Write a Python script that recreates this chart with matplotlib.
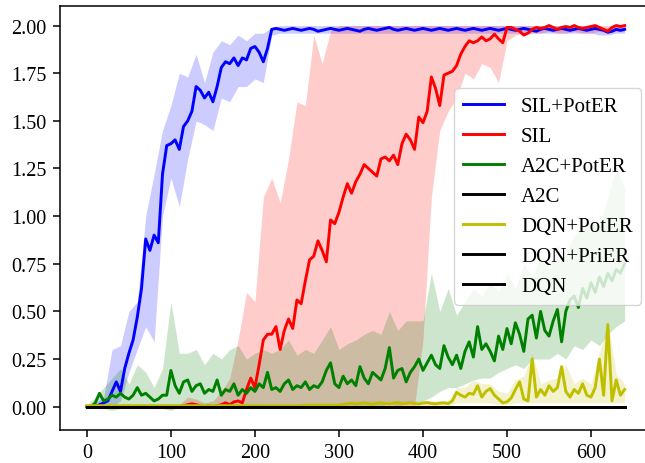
import numpy as np
import matplotlib
matplotlib.use("Agg")
import matplotlib.pyplot as plt

plt.rcParams['font.family'] = 'serif'
plt.rcParams['font.serif'] = ['Liberation Serif', 'DejaVu Serif']
plt.rcParams['mathtext.fontset'] = 'stix'

# ---------------- data ----------------
steps = list(range(0, 641, 5))        # mean curves
band_steps = list(range(0, 641, 10))  # shaded bands

labels = ['SIL+PotER', 'SIL', 'A2C+PotER', 'A2C', 'DQN+PotER', 'DQN+PriER', 'DQN']
colors = ['b', 'r', 'g', 'k', 'y', 'k', 'k']

sil_poter = [
    0.00, 0.00, 0.00, 0.01, 0.02, 0.03, 0.08, 0.13, 0.08, 0.20,
    0.28, 0.35, 0.47, 0.62, 0.88, 0.82, 0.90, 0.86, 1.22, 1.37,
    1.38, 1.40, 1.35, 1.47, 1.50, 1.55, 1.68, 1.66, 1.62, 1.65,
    1.60, 1.68, 1.78, 1.81, 1.80, 1.83, 1.79, 1.83, 1.82, 1.88,
    1.89, 1.86, 1.81, 1.88, 1.98, 1.985, 1.98, 1.975, 1.98, 1.985,
    1.98, 1.975, 1.98, 1.985, 1.98, 1.97, 1.975, 1.98, 1.985, 1.98,
    1.975, 1.98, 1.985, 1.98, 1.975, 1.97, 1.98, 1.985, 1.98, 1.975,
    1.98, 1.985, 1.99, 1.98, 1.975, 1.98, 1.985, 1.98, 1.975, 1.98,
    1.985, 1.98, 1.975, 1.98, 1.985, 1.98, 1.975, 1.98, 1.985, 1.98,
    1.975, 1.98, 1.985, 1.98, 1.975, 1.98, 1.985, 1.98, 1.975, 1.98,
    1.985, 1.98, 1.975, 1.98, 1.985, 1.98, 1.975, 1.97, 1.98, 1.985,
    1.98, 1.975, 1.98, 1.985, 1.98, 1.975, 1.98, 1.985, 1.98, 1.975,
    1.98, 1.985, 1.98, 1.975, 1.965, 1.97, 1.98, 1.975, 1.98,
]
sil_poter_lo = [
    0.00, 0.00, 0.00, 0.00, 0.03, 0.18, 0.30, 0.42, 0.34, 1.00,
    1.20, 1.05, 1.30, 1.50, 1.48, 1.45, 1.62, 1.60, 1.68, 1.68,
    1.72, 1.70, 1.95, 1.96, 1.96, 1.96, 1.96, 1.96, 1.96, 1.96,
    1.96, 1.96, 1.96, 1.96, 1.96, 1.96, 1.96, 1.96, 1.96, 1.96,
    1.96, 1.96, 1.96, 1.96, 1.96, 1.96, 1.96, 1.96, 1.96, 1.96,
    1.96, 1.96, 1.96, 1.96, 1.96, 1.96, 1.96, 1.96, 1.96, 1.96,
    1.96, 1.95, 1.95, 1.96, 1.96,
]
sil_poter_hi = [
    0.00, 0.02, 0.05, 0.30, 0.32, 0.50, 0.55, 1.00, 1.22, 1.45,
    1.58, 1.75, 1.73, 1.85, 1.70, 1.86, 1.92, 1.90, 1.95, 1.92,
    1.96, 1.96, 1.99, 2.00, 2.00, 2.00, 2.00, 2.00, 2.00, 2.00,
    2.00, 2.00, 2.00, 2.00, 2.00, 2.00, 2.00, 2.00, 2.00, 2.00,
    2.00, 2.00, 2.00, 2.00, 2.00, 2.00, 2.00, 2.00, 2.00, 2.00,
    2.00, 2.00, 2.00, 2.00, 2.00, 2.00, 2.00, 2.00, 2.00, 2.00,
    2.00, 1.99, 1.99, 2.00, 2.00,
]

sil = [
    0.0, 0.0, 0.0, 0.0, 0.0, 0.0, 0.0, 0.0, 0.0, 0.0,
    0.0, 0.0, 0.0, 0.0, 0.0, 0.0, 0.0, 0.0, 0.0, 0.0,
    0.0, 0.0, 0.0, 0.005, 0.01, 0.015, 0.01, 0.005, 0.0, 0.005,
    0.0, 0.005, 0.01, 0.02, 0.01, 0.025, 0.03, 0.02, 0.09, 0.15,
    0.10, 0.22, 0.35, 0.38, 0.38, 0.42, 0.30, 0.40, 0.46, 0.41,
    0.56, 0.54, 0.66, 0.77, 0.79, 0.87, 0.82, 0.76, 0.98, 0.96,
    1.02, 1.10, 1.17, 1.12, 1.18, 1.22, 1.27, 1.25, 1.23, 1.21,
    1.30, 1.31, 1.29, 1.32, 1.27, 1.38, 1.43, 1.40, 1.35, 1.52,
    1.49, 1.55, 1.73, 1.67, 1.58, 1.74, 1.75, 1.76, 1.79, 1.85,
    1.89, 1.92, 1.91, 1.92, 1.94, 1.92, 1.93, 1.955, 1.93, 1.91,
    1.99, 1.99, 1.98, 1.97, 1.95, 1.96, 1.98, 1.99, 1.985, 1.99,
    2.0, 1.99, 1.98, 1.99, 1.995, 1.99, 2.0, 1.99, 1.985, 1.99,
    1.995, 2.0, 1.99, 1.98, 1.97, 1.99, 2.0, 1.995, 2.0,
]
sil_lo = [
    0.0, 0.0, 0.0, 0.0, 0.0, 0.0, 0.0, 0.0, 0.0, 0.0,
    0.0, 0.0, 0.0, 0.0, 0.0, 0.0, 0.0, 0.0, 0.0, 0.0,
    0.0, 0.0, 0.0, 0.0, 0.0, 0.0, 0.0, 0.0, 0.0, 0.0,
    0.0, 0.0, 0.0, 0.0, 0.0, 0.0, 0.0, 0.0, 0.0, 0.0,
    0.35, 1.10, 1.45, 1.55, 1.62, 1.75, 1.72, 1.80, 1.78, 1.70,
    1.92, 1.95, 1.96, 1.96, 1.96, 1.97, 1.96, 1.96, 1.97, 1.96,
    1.96, 1.97, 1.96, 1.97, 1.97,
]
sil_hi = [
    0.01, 0.01, 0.01, 0.01, 0.01, 0.01, 0.01, 0.01, 0.01, 0.01,
    0.01, 0.01, 0.05, 0.04, 0.02, 0.03, 0.08, 0.15, 0.35, 0.60,
    0.55, 1.10, 1.20, 1.07, 1.30, 1.60, 1.58, 1.95, 1.80, 1.97,
    2.00, 2.00, 2.00, 2.00, 2.00, 2.00, 2.00, 2.00, 2.00, 2.00,
    2.00, 2.00, 2.00, 2.00, 2.00, 2.00, 2.00, 2.00, 2.00, 2.00,
    2.00, 2.00, 2.00, 2.00, 2.00, 2.00, 2.00, 2.00, 2.00, 2.00,
    2.00, 2.00, 2.00, 2.00, 2.00,
]

a2c_poter = [
    0.00, 0.00, 0.02, 0.07, 0.03, 0.04, 0.06, 0.05, 0.07, 0.05,
    0.04, 0.06, 0.10, 0.06, 0.07, 0.05, 0.03, 0.04, 0.06, 0.06,
    0.19, 0.11, 0.07, 0.13, 0.14, 0.08, 0.11, 0.12, 0.07, 0.09,
    0.08, 0.14, 0.06, 0.09, 0.08, 0.12, 0.06, 0.09, 0.07, 0.10,
    0.08, 0.12, 0.10, 0.18, 0.09, 0.10, 0.08, 0.12, 0.14, 0.09,
    0.11, 0.10, 0.13, 0.09, 0.11, 0.10, 0.13, 0.19, 0.23, 0.12,
    0.10, 0.16, 0.12, 0.14, 0.11, 0.21, 0.15, 0.12, 0.18, 0.16,
    0.14, 0.20, 0.31, 0.15, 0.19, 0.20, 0.13, 0.18, 0.21, 0.25,
    0.19, 0.23, 0.27, 0.22, 0.20, 0.32, 0.26, 0.22, 0.27, 0.20,
    0.29, 0.34, 0.26, 0.42, 0.30, 0.33, 0.29, 0.24, 0.37, 0.30,
    0.41, 0.33, 0.44, 0.38, 0.29, 0.46, 0.48, 0.36, 0.50, 0.40,
    0.37, 0.45, 0.51, 0.34, 0.50, 0.56, 0.58, 0.52, 0.62, 0.57,
    0.65, 0.60, 0.68, 0.63, 0.70, 0.66, 0.72, 0.70, 0.75,
]
a2c_poter_lo = [
    0.00, -0.01, -0.01, -0.02, -0.01, 0.00, 0.00, -0.01, -0.01, -0.01,
    -0.02, 0.00, 0.00, 0.00, 0.00, 0.00, 0.00, 0.00, 0.00, 0.00,
    0.00, 0.00, 0.00, 0.00, 0.00, 0.00, 0.00, 0.00, 0.00, 0.00,
    0.00, 0.00, 0.00, 0.00, 0.00, 0.00, 0.02, 0.00, 0.02, 0.02,
    0.03, 0.05, 0.08, 0.10, 0.10, 0.12, 0.14, 0.15, 0.15, 0.18,
    0.20, 0.22, 0.20, 0.25, 0.25, 0.25, 0.28, 0.25, 0.32, 0.30,
    0.35, 0.32, 0.38, 0.42, 0.45,
]
a2c_poter_hi = [
    0.01, 0.05, 0.10, 0.15, 0.20, 0.12, 0.22, 0.18, 0.10, 0.20,
    0.55, 0.28, 0.28, 0.30, 0.22, 0.28, 0.25, 0.30, 0.32, 0.25,
    0.28, 0.30, 0.28, 0.30, 0.35, 0.27, 0.30, 0.28, 0.35, 0.42,
    0.30, 0.33, 0.35, 0.38, 0.40, 0.38, 0.50, 0.40, 0.45, 0.45,
    0.45, 0.70, 0.50, 0.62, 0.48, 0.55, 0.62, 0.58, 0.65, 0.60,
    0.70, 0.62, 0.75, 0.68, 0.80, 0.72, 0.85, 0.80, 0.90, 0.95,
    1.00, 0.95, 1.10, 1.25, 1.15,
]

dqn_poter = [
    0.005, 0.005, 0.005, 0.005, 0.005, 0.005, 0.005, 0.005, 0.005, 0.005,
    0.005, 0.005, 0.005, 0.005, 0.005, 0.005, 0.005, 0.005, 0.005, 0.005,
    0.005, 0.005, 0.005, 0.005, 0.005, 0.005, 0.005, 0.005, 0.005, 0.005,
    0.005, 0.005, 0.005, 0.005, 0.005, 0.005, 0.005, 0.005, 0.005, 0.005,
    0.005, 0.005, 0.005, 0.005, 0.005, 0.005, 0.005, 0.005, 0.005, 0.005,
    0.005, 0.005, 0.008, 0.008, 0.008, 0.008, 0.008, 0.008, 0.008, 0.008,
    0.008, 0.012, 0.015, 0.018, 0.014, 0.016, 0.02, 0.015, 0.013, 0.017,
    0.02, 0.016, 0.014, 0.018, 0.022, 0.015, 0.017, 0.02, 0.016, 0.014,
    0.019, 0.021, 0.017, 0.015, 0.018, 0.02, 0.016, 0.03, 0.075, 0.06,
    0.05, 0.07, 0.065, 0.11, 0.05, 0.08, 0.095, 0.06, 0.04, 0.02,
    0.025, 0.045, 0.09, 0.13, 0.04, 0.03, 0.25, 0.05, 0.09, 0.06,
    0.11, 0.08, 0.10, 0.21, 0.08, 0.05, 0.09, 0.07, 0.12, 0.06,
    0.05, 0.10, 0.25, 0.06, 0.43, 0.03, 0.14, 0.06, 0.09,
]
dqn_poter_lo = [
    0.0, 0.0, 0.0, 0.0, 0.0, 0.0, 0.0, 0.0, 0.0, 0.0,
    0.0, 0.0, 0.0, 0.0, 0.0, 0.0, 0.0, 0.0, 0.0, 0.0,
    0.0, 0.0, 0.0, 0.0, 0.0, 0.0, 0.0, 0.0, 0.0, 0.0,
    0.0, 0.0, 0.0, 0.0, 0.0, 0.0, 0.0, 0.0, 0.0, 0.0,
    0.0, 0.0, 0.0, 0.0, 0.02, 0.02, 0.02, 0.02, 0.02, 0.01,
    0.01, 0.02, 0.02, 0.02, 0.02, 0.02, 0.02, 0.02, 0.02, 0.02,
    0.02, 0.02, 0.02, 0.02, 0.02,
]
dqn_poter_hi = [
    0.008, 0.008, 0.008, 0.008, 0.008, 0.008, 0.008, 0.008, 0.008, 0.008,
    0.008, 0.008, 0.008, 0.008, 0.008, 0.008, 0.008, 0.008, 0.008, 0.008,
    0.008, 0.008, 0.008, 0.008, 0.008, 0.008, 0.015, 0.015, 0.015, 0.015,
    0.015, 0.03, 0.03, 0.03, 0.03, 0.03, 0.03, 0.03, 0.03, 0.03,
    0.03, 0.03, 0.03, 0.03, 0.10, 0.10, 0.14, 0.12, 0.12, 0.08,
    0.07, 0.14, 0.16, 0.28, 0.12, 0.14, 0.15, 0.22, 0.12, 0.15,
    0.12, 0.28, 0.45, 0.17, 0.12,
]

a2c = [
    0, 0, 0, 0, 0, 0, 0, 0, 0, 0, 0, 0, 0, 0, 0, 0, 0, 0, 0, 0,
    0, 0, 0, 0, 0, 0, 0, 0, 0, 0, 0, 0, 0, 0, 0, 0, 0, 0, 0, 0,
    0, 0, 0, 0, 0, 0, 0, 0, 0, 0, 0, 0, 0, 0, 0, 0, 0, 0, 0, 0,
    0, 0, 0, 0, 0,
]
dqn_prier = [
    0, 0, 0, 0, 0, 0, 0, 0, 0, 0, 0, 0, 0, 0, 0, 0, 0, 0, 0, 0,
    0, 0, 0, 0, 0, 0, 0, 0, 0, 0, 0, 0, 0, 0, 0, 0, 0, 0, 0, 0,
    0, 0, 0, 0, 0, 0, 0, 0, 0, 0, 0, 0, 0, 0, 0, 0, 0, 0, 0, 0,
    0, 0, 0, 0, 0,
]
dqn = [
    0, 0, 0, 0, 0, 0, 0, 0, 0, 0, 0, 0, 0, 0, 0, 0, 0, 0, 0, 0,
    0, 0, 0, 0, 0, 0, 0, 0, 0, 0, 0, 0, 0, 0, 0, 0, 0, 0, 0, 0,
    0, 0, 0, 0, 0, 0, 0, 0, 0, 0, 0, 0, 0, 0, 0, 0, 0, 0, 0, 0,
    0, 0, 0, 0, 0,
]

x_ticks = [0, 100, 200, 300, 400, 500, 600]
y_ticks = [0.00, 0.25, 0.50, 0.75, 1.00, 1.25, 1.50, 1.75, 2.00]

# sanity checks
for arr in (sil_poter, sil, a2c_poter, dqn_poter):
    assert len(arr) == len(steps), len(arr)
for arr in (sil_poter_lo, sil_poter_hi, sil_lo, sil_hi, a2c_poter_lo, a2c_poter_hi,
            dqn_poter_lo, dqn_poter_hi, a2c, dqn_prier, dqn):
    assert len(arr) == len(band_steps), len(arr)

# ---------------- plot ----------------
fig = plt.figure(figsize=(6.45, 4.64), dpi=100)
ax = fig.add_axes([60 / 645, 33.3 / 464, 591.5 / 645, 423.4 / 464])

series = [
    (steps, sil_poter, sil_poter_lo, sil_poter_hi),
    (steps, sil, sil_lo, sil_hi),
    (steps, a2c_poter, a2c_poter_lo, a2c_poter_hi),
    (band_steps, a2c, None, None),
    (steps, dqn_poter, dqn_poter_lo, dqn_poter_hi),
    (band_steps, dqn_prier, None, None),
    (band_steps, dqn, None, None),
]
for (xs, ys, lo, hi), lab, col in zip(series, labels, colors):
    ax.plot(xs, ys, color=col, lw=2.1, label=lab)
    if lo is not None:
        ax.fill_between(band_steps, lo, hi, color=col, alpha=0.2, lw=0)

ax.set_xlim(-32, 672)
ax.set_ylim(-0.121, 2.101)
ax.set_xticks(x_ticks)
ax.set_yticks(y_ticks)
ax.set_yticklabels([f"{v:.2f}" for v in y_ticks])
ax.tick_params(labelsize=14.5, length=4.9, width=1.1, pad=4.9)
for sp in ax.spines.values():
    sp.set_linewidth(1.1)

ax.legend(loc='center right', bbox_to_anchor=(1.0, 0.551), fontsize=15)

fig.savefig('out.png', dpi=100)
